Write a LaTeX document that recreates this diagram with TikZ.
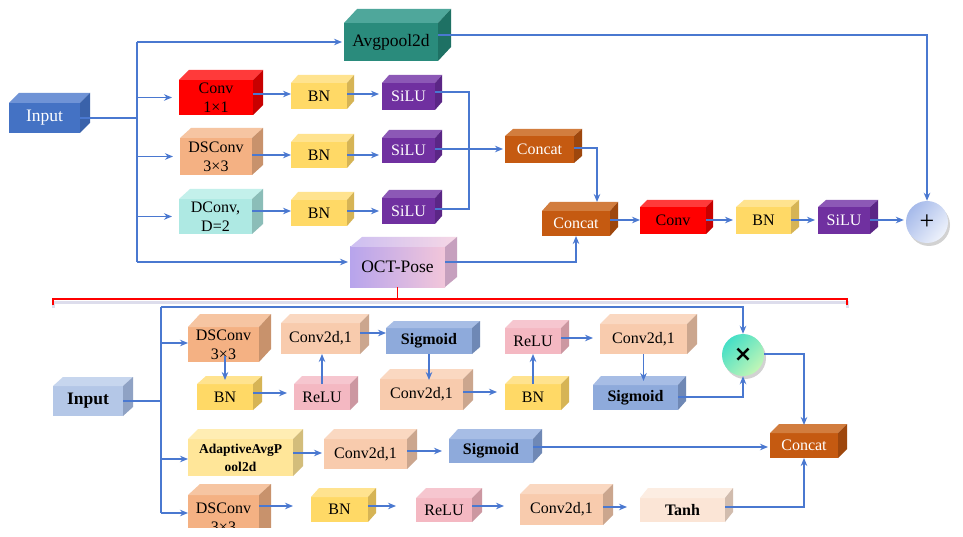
\documentclass[tikz,border=0pt]{standalone}
\usepackage{fontspec}
\setmainfont{Liberation Serif}
\newfontfamily\dejavu{DejaVu Sans}
\usetikzlibrary{arrows.meta,calc,shadows}

\definecolor{arrowblue}{HTML}{4A78D0}
\definecolor{inpF}{HTML}{4472C4}\definecolor{inpT}{HTML}{6F93D6}\definecolor{inpS}{HTML}{3A62AA}
\definecolor{teaF}{HTML}{2A8B7C}\definecolor{teaT}{HTML}{4FA79B}\definecolor{teaS}{HTML}{1E7164}
\definecolor{redF}{HTML}{FF0000}\definecolor{redT}{HTML}{FF3A3A}\definecolor{redS}{HTML}{C80000}
\definecolor{bnF}{HTML}{FFD966}\definecolor{bnT}{HTML}{FFE38F}\definecolor{bnS}{HTML}{D6B455}
\definecolor{slF}{HTML}{7030A0}\definecolor{slT}{HTML}{8C58B6}\definecolor{slS}{HTML}{5B2686}
\definecolor{dsF}{HTML}{F4B183}\definecolor{dsT}{HTML}{F6C5A2}\definecolor{dsS}{HTML}{C8926C}
\definecolor{dcF}{HTML}{AEE9E3}\definecolor{dcT}{HTML}{C3F0EB}\definecolor{dcS}{HTML}{8BBDB8}
\definecolor{ccF}{HTML}{C55A11}\definecolor{ccT}{HTML}{D27D3E}\definecolor{ccS}{HTML}{9E470D}
\definecolor{pcF}{HTML}{F8CBAD}\definecolor{pcT}{HTML}{FAD8C1}\definecolor{pcS}{HTML}{CBA68E}
\definecolor{rlF}{HTML}{F4B8C2}\definecolor{rlT}{HTML}{F6C6CF}\definecolor{rlS}{HTML}{CC97A1}
\definecolor{sgF}{HTML}{8EAADB}\definecolor{sgT}{HTML}{A7BDE5}\definecolor{sgS}{HTML}{6F88B5}
\definecolor{ibF}{HTML}{B4C7E7}\definecolor{ibT}{HTML}{C7D6EE}\definecolor{ibS}{HTML}{8FA2C4}
\definecolor{adF}{HTML}{FFE699}\definecolor{adT}{HTML}{FFEDB3}\definecolor{adS}{HTML}{D3BD7B}
\definecolor{thF}{HTML}{FBE5D6}\definecolor{thT}{HTML}{FCEDE2}\definecolor{thS}{HTML}{D1BCAE}
\definecolor{octF}{HTML}{D4B4E4}\definecolor{octT}{HTML}{E2CDF0}\definecolor{octS}{HTML}{C6A0BE}
\definecolor{octL}{HTML}{B7A4EC}\definecolor{octR}{HTML}{F2C6DA}
\definecolor{plusA}{HTML}{A6BAEA}\definecolor{plusB}{HTML}{EEF2FB}
\definecolor{mulA}{HTML}{45DFC6}\definecolor{mulB}{HTML}{C2F6B6}

\tikzset{
  cubefront/.style={inner sep=0pt, outer sep=0pt, align=center,
    font=\fontsize{16}{19}\selectfont, text=black},
  conn/.style={draw=arrowblue, line width=1.8pt},
  arr/.style={conn, -{Stealth[length=8pt,width=6.5pt]}},
  big/.style={font=\fontsize{17.5}{20}\selectfont},
  bold/.style={font=\fontsize{16}{19}\selectfont\bfseries},
  opcircle/.style={circle, minimum size=42pt, inner sep=0pt,
    drop shadow={opacity=0.35, shadow xshift=2pt, shadow yshift=-3pt}},
}

% #1 opts, #2 name, #3 x1, #4 y1, #5 x2, #6 y2, #7 depth "dx,-dy", #8 colour prefix, #9 text
\newcommand\mycube[9][]{%
  \node[cubefront, fill=#8F, minimum width={(#5-#3)*1pt}, minimum height={(#6-#4)*1pt}, #1]
     (#2) at ({(#3+#5)/2},{(#4+#6)/2}) {#9};
  \fill[#8T] (#2.north west) -- ++(#7) -- ([shift={(#7)}]#2.north east) -- (#2.north east) -- cycle;
  \fill[#8S] (#2.north east) -- ++(#7) -- ([shift={(#7)}]#2.south east) -- (#2.south east) -- cycle;
}

\begin{document}
\begin{tikzpicture}[x=1pt,y=-1pt]
\useasboundingbox[fill=white] (0,0) rectangle (963,537);

% ---------------- upper part ----------------
\mycube[big, text=white]{inp}{9}{103}{80}{133}{10,-10}{inp}{Input}
\mycube[big]{avg}{344}{23}{438}{61}{13,-14}{tea}{Avgpool2d}
\mycube{conv1}{179}{80}{253}{115}{10,-10}{red}{Conv\\1×1}
\mycube{bn1}{291}{83}{347}{109}{7,-8}{bn}{BN}
\mycube[text=white]{silu1}{382}{83}{435}{110}{7,-8}{sl}{SiLU}
\mycube{ds1}{180}{138}{252}{175}{11,-10}{ds}{DSConv\\3×3}
\mycube{bn2}{291}{142}{347}{168}{7,-8}{bn}{BN}
\mycube[text=white]{silu2}{382}{138}{435}{163}{7,-8}{sl}{SiLU}
\mycube{dc1}{179}{199}{252}{234}{11,-10}{dc}{DConv,\\D=2}
\mycube{bn3}{291}{200}{347}{226}{7,-8}{bn}{BN}
\mycube[text=white]{silu3}{382}{198}{435}{224}{7,-8}{sl}{SiLU}
% OCT-Pose with gradient
\node[cubefront, big, left color=octL, right color=octR, minimum width=95pt, minimum height=40pt]
   (oct) at (397.5,267) {OCT-Pose};
\shade[left color=octL!70!white, right color=octR!70!white]
   (oct.north west) -- ++(12,-10) -- ([shift={(12,-10)}]oct.north east) -- (oct.north east) -- cycle;
\fill[octS] (oct.north east) -- ++(12,-10) -- ([shift={(12,-10)}]oct.south east) -- (oct.south east) -- cycle;

\mycube[text=white]{ccA}{505}{136}{574}{163}{8,-7}{cc}{Concat}
\mycube[text=white]{ccB}{542}{211}{610}{236}{8,-9}{cc}{Concat}
\mycube{convC}{640}{207}{706}{234}{7,-7}{red}{Conv}
\mycube{bnC}{736}{207}{791}{234}{8,-7}{bn}{BN}
\mycube[text=white]{siluC}{818}{207}{870}{234}{8,-7}{sl}{SiLU}
\node[opcircle, top color=plusA, bottom color=plusB, shading angle=50,
      font=\fontsize{26}{26}\selectfont] (plus) at (927,222) {+};

% trunk and connectors (upper)
\coordinate (t1) at (137,118);
\coordinate (tA) at (137,42);
\coordinate (tB) at (137,262);
\draw[conn] (inp.east) -- (t1);
\draw[conn] (tA) -- (tB);
\draw[arr, shorten >=2pt] (tA) -- (avg.west);
\draw[arr, shorten >=7pt] (t1 |- conv1.west) -- (conv1.west);
\draw[arr, shorten >=7pt] (t1 |- ds1.west) -- (ds1.west);
\draw[arr, shorten >=7pt] (t1 |- dc1.west) -- (dc1.west);
\draw[arr, shorten >=2pt] (tB) -- (tB -| oct.west);
\draw[arr] (conv1.east |- 0,94) -- (bn1.west |- 0,94);
\draw[arr, shorten >=3pt] (bn1.east |- 0,94) -- (silu1.west |- 0,94);
\draw[arr] (ds1.east |- 0,155) -- (bn2.west |- 0,155);
\draw[arr, shorten >=3pt] (bn2.east |- 0,155) -- (silu2.west |- 0,155);
\draw[arr] (dc1.east |- 0,211) -- (bn3.west |- 0,211);
\draw[arr, shorten >=3pt] (bn3.east |- 0,211) -- (silu3.west |- 0,211);
\coordinate (cj) at (469,150);
\draw[conn] (silu1.east |- 0,92) -| (cj) |- (silu3.east |- 0,209);
\draw[arr, shorten >=2pt] (silu2.east |- 0,149) -- (ccA.west |- 0,149);
\draw[arr] (ccA.east |- 0,148) -| ($(ccB.north)+(21,-9)$);
\draw[arr] (oct.east |- tB) -| (ccB.south);
\draw[arr] (ccB.east |- 0,220) -- (convC.west |- 0,220);
\draw[arr, shorten >=3pt] (convC.east |- 0,220) -- (bnC.west |- 0,220);
\draw[arr, shorten >=3pt] (bnC.east |- 0,220) -- (siluC.west |- 0,220);
\draw[arr, shorten >=2pt] (siluC.east |- 0,220) -- (plus.west |- 0,220);
\draw[arr] (avg.east |- 0,35) -| (plus.north);

% red bracket
\coordinate (brL) at (53,305);
\coordinate (brR) at (847,305);
\draw[blue!30!gray!40, line width=3pt, opacity=0.5] ($(brL)+(0,3)$) -- ++(0,-6) -| ($(brR)+(0,3)$);
\draw[red, line width=1.8pt] (brL) -- ++(0,-6) -| (brR);
\draw[red, line width=1.8pt] (oct.south) -- (oct.south |- 0,299);

% ---------------- lower part ----------------
\mycube[font=\fontsize{17.5}{20}\selectfont\bfseries]{inB}{53}{386}{123}{416}{10,-9}{ib}{Input}
\mycube{ds2}{188}{327}{259}{362}{12,-13}{ds}{DSConv\\3×3}
\mycube{bnB1}{197}{384}{253}{410}{9,-8}{bn}{BN}
\mycube{reluB1}{294}{384}{350}{410}{8,-8}{rl}{ReLU}
\mycube{c2d1}{281}{323}{360}{354}{9,-9}{pc}{Conv2d,1}
\mycube[bold]{sigB1}{386}{328}{472}{354}{8,-7}{sg}{Sigmoid}
\mycube{c2d2}{380}{379}{463}{410}{10,-10}{pc}{Conv2d,1}
\mycube{bnB2}{505}{384}{561}{410}{8,-8}{bn}{BN}
\mycube{reluB2}{505}{328}{561}{354}{8,-8}{rl}{ReLU}
\mycube{c2d3}{600}{324}{687}{354}{10,-10}{pc}{Conv2d,1}
\mycube[bold]{sigB2}{593}{385}{678}{410}{8,-9}{sg}{Sigmoid}
\node[opcircle, top color=mulA, bottom color=mulB, shading angle=45,
      font=\dejavu\bfseries\fontsize{22}{22}\selectfont] (times) at (743,355) {×};
\mycube[text=white]{ccC}{770}{433}{838}{458}{9,-9}{cc}{Concat}
\mycube[font=\fontsize{13.5}{18}\selectfont\bfseries]{ada}{188}{439}{293}{476}{10,-10}{ad}{AdaptiveAvgP\\ool2d}
\mycube{c2d4}{324}{439}{407}{469}{10,-10}{pc}{Conv2d,1}
\mycube[bold]{sigB3}{449}{439}{533}{463}{9,-10}{sg}{Sigmoid}
\mycube{ds3}{188}{495}{259}{540}{12,-11}{ds}{DSConv\\3×3}
\mycube{bnB3}{311}{497}{368}{522}{8,-9}{bn}{BN}
\mycube{reluB3}{416}{498}{472}{522}{10,-10}{rl}{ReLU}
\mycube{c2d5}{520}{494}{603}{525}{10,-10}{pc}{Conv2d,1}
\mycube[bold]{tanh}{640}{498}{725}{522}{8,-10}{th}{Tanh}

% trunk and connectors (lower)
\coordinate (t2) at (161,401);
\coordinate (tC) at (161,307);
\coordinate (tD) at (161,513);
\draw[conn] (inB.east) -- (t2);
\draw[conn] (tC) -- (tD);
\draw[arr] (tC) -| (times.north);
\draw[arr] (t2 |- 0,343) -- (ds2.west |- 0,343);
\draw[arr] (t2 |- 0,459) -- (ada.west |- 0,459);
\draw[arr] (tD) -- (ds3.west |- tD);
\draw[arr] (bnB1.north |- 0,356) -- ([yshift=4pt]bnB1.north);
\draw[arr, shorten >=7pt] (bnB1.east |- 0,393) -- (reluB1.west |- 0,393);
\draw[arr] (reluB1.north |- 0,384) -- (reluB1.north |- c2d1.south);
\draw[arr] (c2d1.east |- 0,333) -- (sigB1.west |- 0,333);
\draw[arr] (sigB1.south) -- ([yshift=-1pt]sigB1.south |- c2d2.north);
\draw[arr, shorten >=8pt] (c2d2.east |- 0,392) -- (bnB2.west |- 0,392);
\draw[arr] (bnB2.north |- 0,384) -- (bnB2.north |- reluB2.south);
\draw[arr, shorten >=7pt] (reluB2.east |- 0,338) -- (c2d3.west |- 0,338);
\draw[arr] (c2d3.south) -- ([yshift=4pt]c2d3.south |- sigB2.north);
\draw[arr] (sigB2.east |- 0,397) -| (times.south);
\draw[arr] (times.east |- 0,354) -| ([yshift=8pt]ccC.north);
\draw[arr, shorten >=2pt] (ada.east |- 0,453) -- (c2d4.west |- 0,453);
\draw[arr, shorten >=7pt] (c2d4.east |- 0,451) -- (sigB3.west |- 0,451);
\draw[arr, shorten >=2pt] (sigB3.east |- 0,447) -- (ccC.west |- 0,447);
\draw[arr, shorten >=18pt] (ds3.east |- 0,506) -- (bnB3.west |- 0,506);
\draw[arr, shorten >=20pt] (bnB3.east |- 0,506) -- (reluB3.west |- 0,506);
\draw[arr, shorten >=16pt] (reluB3.east |- 0,506) -- (c2d5.west |- 0,506);
\draw[arr, shorten >=13pt] (c2d5.east |- 0,507) -- (tanh.west |- 0,507);
\draw[arr] (tanh.east |- 0,507) -| (ccC.south);

% bottom crop of the original
\fill[white] (0,528) rectangle (963,537);
\end{tikzpicture}
\end{document}
